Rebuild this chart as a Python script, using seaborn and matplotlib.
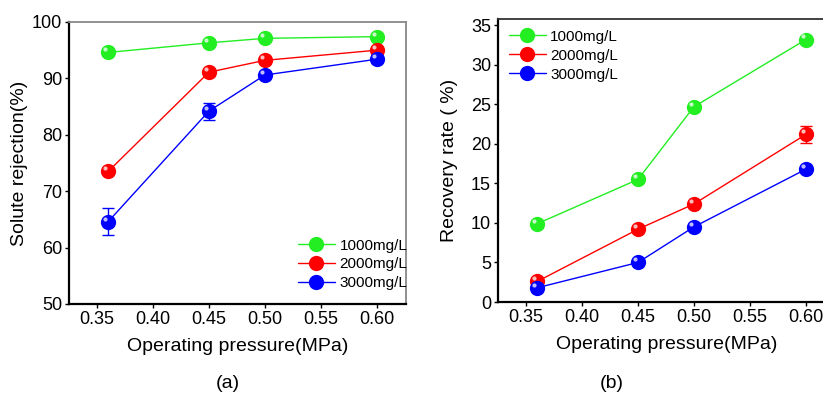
import pandas as pd
import matplotlib
matplotlib.use("Agg")
import matplotlib.pyplot as plt
import matplotlib.transforms as mtransforms
from matplotlib.lines import Line2D
import seaborn as sns

sns.set_style("ticks")
plt.rcParams['font.family'] = ['Liberation Sans', 'DejaVu Sans']
plt.rcParams['text.color'] = 'black'
plt.rcParams['axes.labelcolor'] = 'black'
plt.rcParams['xtick.color'] = 'black'
plt.rcParams['ytick.color'] = 'black'

pressure = [0.36, 0.45, 0.50, 0.60]
concs = ["1000mg/L", "2000mg/L", "3000mg/L"]

rejection_1000 = [94.6, 96.3, 97.1, 97.4]
rejection_2000 = [73.5, 91.1, 93.2, 95.0]
rejection_3000 = [64.6, 84.2, 90.6, 93.4]
rejection_err_3000 = [2.4, 1.5, 0.0, 0.0]

recovery_1000 = [9.9, 15.5, 24.7, 33.2]
recovery_2000 = [2.6, 9.2, 12.4, 21.2]
recovery_3000 = [1.8, 5.0, 9.5, 16.8]
recovery_err_2000 = [0.0, 0.0, 0.0, 1.1]

colors = {"1000mg/L": "#22ee22", "2000mg/L": "#ff0000", "3000mg/L": "#0000ff"}


def long_form(series):
    rows = []
    for conc, vals in zip(concs, series):
        for p, v in zip(pressure, vals):
            rows.append({"pressure": p, "value": v, "conc": conc})
    return pd.DataFrame(rows)


rej = long_form([rejection_1000, rejection_2000, rejection_3000])
rec = long_form([recovery_1000, recovery_2000, recovery_3000])

fig = plt.figure(figsize=(8.23, 3.99), dpi=100)
ax1 = fig.add_axes([0.0838, 0.2381, 0.4095, 0.7068])
ax2 = fig.add_axes([0.6051, 0.2431, 0.4095, 0.7093])


def draw(ax, df, errs):
    sns.lineplot(data=df, x="pressure", y="value", hue="conc", palette=colors,
                 marker="o", markersize=11, markeredgewidth=0, linewidth=1,
                 legend=False, ax=ax, zorder=3)
    for conc, err in errs.items():
        sub = df[df.conc == conc]
        ax.errorbar(sub.pressure, sub.value, yerr=err, fmt="none",
                    ecolor=colors[conc], elinewidth=1, capsize=4, zorder=2)
    shift = mtransforms.ScaledTranslation(-2.2 / 72, 2.2 / 72, fig.dpi_scale_trans)
    ax.plot(df.pressure, df.value, "o", color="white", alpha=0.75, markersize=3,
            markeredgewidth=0, transform=ax.transData + shift, zorder=4)
    ax.set_xlim(0.325, 0.626)
    ax.set_xticks([0.35, 0.40, 0.45, 0.50, 0.55, 0.60])
    ax.set_xticklabels(["0.35", "0.40", "0.45", "0.50", "0.55", "0.60"])
    ax.tick_params(labelsize=13, length=3, width=1, pad=2)
    for s in ["left", "bottom"]:
        ax.spines[s].set_linewidth(1.6)
        ax.spines[s].set_color("black")
    for s in ["top", "right"]:
        ax.spines[s].set_visible(True)
        ax.spines[s].set_linewidth(1.3)
        ax.spines[s].set_color("#888888")
    ax.set_xlabel("Operating pressure(MPa)", fontsize=14, labelpad=7)


draw(ax1, rej, {"3000mg/L": rejection_err_3000})
ax1.set_ylim(50, 100)
ax1.set_yticks([50, 60, 70, 80, 90, 100])
ax1.set_ylabel("Solute rejection(%)", fontsize=14, labelpad=3)

draw(ax2, rec, {"2000mg/L": recovery_err_2000})
ax2.set_ylim(0, 35.8)
ax2.set_yticks([0, 5, 10, 15, 20, 25, 30, 35])
ax2.set_ylabel("Recovery rate ( %)", fontsize=14, labelpad=9)
ax2.spines["top"].set_color("#333333")

handles = [Line2D([], [], color=colors[c], marker="o", markersize=11,
                  markeredgewidth=0, linewidth=1) for c in concs]
ax1.legend(handles, concs, loc="upper left", bbox_to_anchor=(0.68, 0.232),
           frameon=False, fontsize=11, handlelength=2.4, handletextpad=0.3,
           labelspacing=0.32, borderpad=0, borderaxespad=0)
ax2.legend(handles, concs, loc="upper left", bbox_to_anchor=(0.033, 0.962),
           frameon=False, fontsize=11, handlelength=2.4, handletextpad=0.3,
           labelspacing=0.32, borderpad=0, borderaxespad=0)

fig.text(0.277, 0.040, "(a)", fontsize=14, ha="center", va="center")
fig.text(0.7436, 0.040, "(b)", fontsize=14, ha="center", va="center")

fig.savefig("out.png", dpi=100)
